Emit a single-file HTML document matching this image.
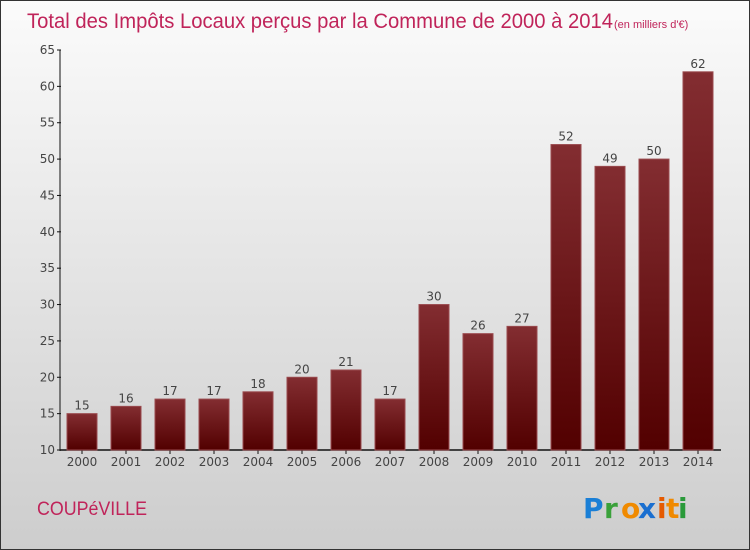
<!DOCTYPE html>
<html><head><meta charset="utf-8"><style>
body{margin:0;width:750px;height:550px;overflow:hidden}
#wrap{position:relative;width:748px;height:548px;border:1px solid #333;background:linear-gradient(#fbfbfb,#cdcdcd);font-family:"DejaVu Sans","Liberation Sans",sans-serif}
</style></head><body>
<div id="wrap">
<svg width="748" height="548" style="position:absolute;left:0;top:0">
<defs><linearGradient id="bg" x1="0" y1="0" x2="0" y2="1"><stop offset="0" stop-color="#832d31"/><stop offset="1" stop-color="#520000"/></linearGradient></defs>
<text x="26" y="27" font-size="21" fill="#c0245a" font-weight="200" style="font-family:'Liberation Sans',sans-serif" textLength="586" lengthAdjust="spacingAndGlyphs">Total des Impôts Locaux perçus par la Commune de 2000 à 2014</text>
<text x="613" y="27" font-size="11" fill="#c0245a" style="font-family:'Liberation Sans',sans-serif">(en milliers d'€)</text>
<g id="axes"></g><g id="bars"></g>
<text x="36" y="514" font-size="19" fill="#c0245a" style="font-family:'Liberation Sans',sans-serif" textLength="110" lengthAdjust="spacingAndGlyphs">COUPéVILLE</text>
<g font-size="28" font-weight="bold" style="font-family:'DejaVu Sans',sans-serif">
<text x="582" y="517" fill="#1a7fd6">P</text><text x="603" y="517" fill="#3aa13a">r</text><text x="620" y="517" fill="#f08a00">o</text><text x="637" y="517" fill="#1a6fd0">x</text><text x="656" y="517" fill="#e55a00">i</text><text x="665" y="517" fill="#f08a00">t</text><text x="677" y="517" fill="#2a9a3a">i</text></g>
</svg></div>
<script>
const categories=["2000","2001","2002","2003","2004","2005","2006","2007","2008","2009","2010","2011","2012","2013","2014"];
const values=[15,16,17,17,18,20,21,17,30,26,27,52,49,50,62];
const yTicks=[10,15,20,25,30,35,40,45,50,55,60,65];
const NS="http://www.w3.org/2000/svg";
const y0=449,y1=49,vmin=10,vmax=65;
const yS=v=>y0-(v-vmin)/(vmax-vmin)*(y0-y1);
const xS=i=>81+i*44;
function mk(t,a,p){const e=document.createElementNS(NS,t);for(const k in a)e.setAttribute(k,a[k]);p.appendChild(e);return e;}
const ax=document.getElementById('axes'),bg=document.getElementById('bars');
const yl=mk('line',{x1:59,y1:y1,x2:59,y2:y0+1,stroke:'#111'},ax);


const xl=mk('line',{x1:59,y1:y0,x2:720,y2:y0,stroke:'#111','stroke-width':1.5},ax);


yTicks.forEach(v=>{const y=yS(v);mk('line',{x1:56,x2:60,y1:y,y2:y,stroke:'#111'},ax);
const t=mk('text',{x:54,y:y+4,'font-size':12,fill:'#444','text-anchor':'end'},ax);t.textContent=v;

});
categories.forEach((c,i)=>{const x=xS(i),v=values[i];
const r=mk('rect',{x:x-15,y:yS(v),width:30,height:y0-yS(v),fill:'url(#bg)',stroke:'#9a4a4e','stroke-width':1},bg);


const l=mk('text',{x:x,y:yS(v)-4,'font-size':12,fill:'#444','text-anchor':'middle'},bg);l.textContent=v;


mk('line',{x1:x,x2:x,y1:y0,y2:y0+4,stroke:'#111'},ax);
const t=mk('text',{x:x,y:y0+16,'font-size':12,fill:'#444','text-anchor':'middle'},ax);t.textContent=c;

});
</script></body></html>
